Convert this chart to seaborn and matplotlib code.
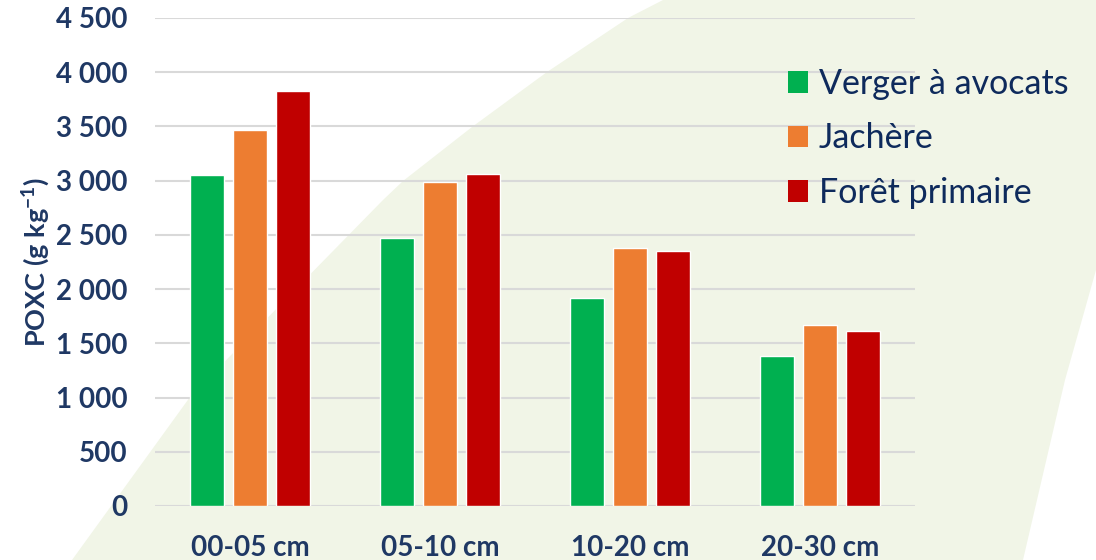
import pandas as pd
import numpy as np
import seaborn as sns
import matplotlib.pyplot as plt
from matplotlib.patches import Polygon, Patch
from matplotlib.ticker import FuncFormatter

# Données
profondeurs = ['00-05 cm', '05-10 cm', '10-20 cm', '20-30 cm']
usages = ['Verger à avocats', 'Jachère', 'Forêt primaire']
verger = [3050, 2470, 1920, 1385]
jachere = [3470, 2990, 2380, 1670]
foret = [3830, 3065, 2355, 1615]
couleurs = ['#00B050', '#ED7D31', '#C00000']

df = pd.DataFrame({
    'Profondeur': profondeurs * 3,
    'Usage': [u for u in usages for _ in profondeurs],
    'POXC': verger + jachere + foret,
})

navy = '#1F3864'
sns.set_theme(style='white')
plt.rcParams['font.family'] = ['Lato', 'DejaVu Sans']
plt.rcParams['mathtext.fontset'] = 'custom'
plt.rcParams['mathtext.rm'] = 'Lato'
plt.rcParams['mathtext.bf'] = 'Lato:bold'

W, H = 1096, 560
fig = plt.figure(figsize=(W / 100, H / 100), dpi=100)
fig.patch.set_facecolor('white')

# Forme décorative vert pâle en arrière-plan (coordonnées en pixels)
fond = [(663, 0), (628, 18), (547, 72), (472, 127), (403, 181), (383, 200),
        (285, 300), (190, 397), (72, 560), (1023, 560), (1065, 380),
        (1096, 270), (1110, 0)]
fig.patches.append(Polygon([(x / W, 1 - y / H) for x, y in fond], closed=True,
                           transform=fig.transFigure, facecolor='#F1F5E7',
                           edgecolor='none', zorder=-5))

ax = fig.add_axes([155 / W, 1 - 506 / H, 760 / W, 488 / H])
ax.set_zorder(2)
ax.set_facecolor('none')

sns.barplot(data=df, x='Profondeur', y='POXC', hue='Usage', palette=couleurs,
            saturation=1, width=0.68, gap=0.23, ax=ax, legend=False, zorder=3)

ax.set_ylim(0, 4500)
ax.set_yticks(np.arange(0, 4501, 500))
ax.yaxis.set_major_formatter(FuncFormatter(lambda v, p: f'{v:,.0f}'.replace(',', ' ')))
ax.grid(axis='y', color='#D9D9D9', linewidth=1.5, zorder=0)
ax.set_axisbelow(True)
sns.despine(ax=ax, left=True, bottom=True)
ax.tick_params(axis='both', length=0, labelcolor=navy, labelsize=20)
ax.tick_params(axis='y', pad=20)
ax.tick_params(axis='x', pad=21)
for lab in ax.get_xticklabels() + ax.get_yticklabels():
    lab.set_fontweight('bold')

ax.set_xlabel('')
ax.set_ylabel(r'POXC (g kg$^{\mathbf{-1}}$)', fontsize=19.5, fontweight='bold', color=navy)
ax.yaxis.set_label_coords(-0.136, 0.5)

handles = [Patch(facecolor=c, edgecolor='none') for c in couleurs]
leg = fig.legend(handles, usages, loc='upper left', bbox_to_anchor=(788 / W, 1 - 68 / H),
                 frameon=False, fontsize=24.5, borderpad=0, borderaxespad=0,
                 handlelength=0.59, handleheight=0.59,
                 handletextpad=0.32, labelspacing=0.66, labelcolor='#0E2A5C')

fig.savefig('out.png', dpi=100)
